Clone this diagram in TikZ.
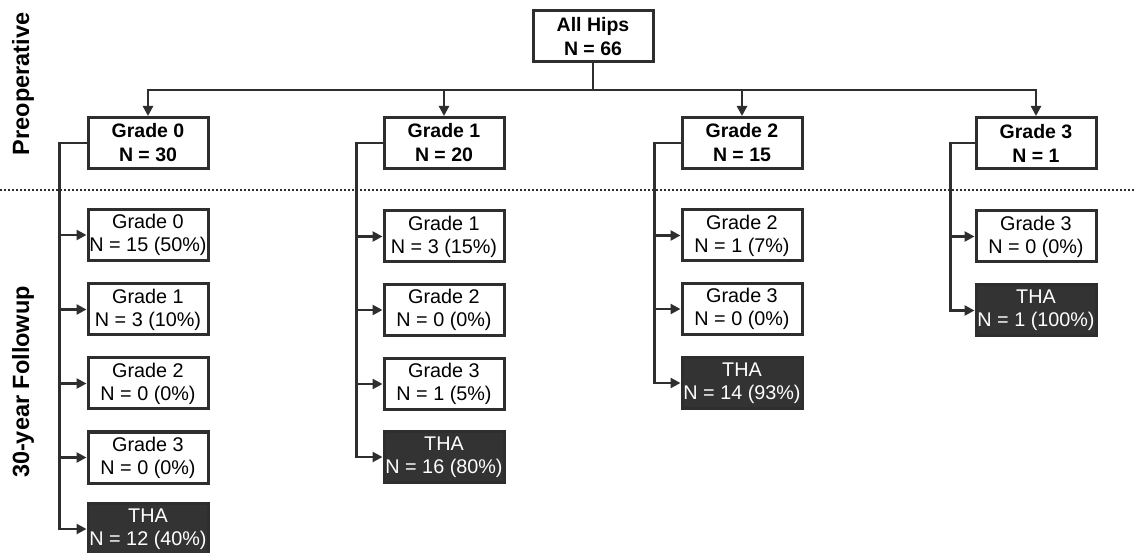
\documentclass[tikz,border=0pt]{standalone}
\usepackage{fontspec}
\setmainfont{Liberation Sans}
\usetikzlibrary{arrows.meta}
\definecolor{ln}{HTML}{2E2E2E}
\definecolor{dk}{HTML}{333333}
\begin{document}
\begin{tikzpicture}[x=1pt,y=-1pt,
  box/.style={draw=ln,line width=3pt,fill=white,minimum width=120pt,minimum height=51pt,inner sep=0pt,align=center,font=\fontsize{19.8}{23}\selectfont,text=black},
  hbox/.style={box,font=\fontsize{19.5}{24}\selectfont\bfseries},
  tha/.style={box,fill=dk,text=white},
  conn/.style={draw=ln,line width=2.6pt},
  arr/.style={conn,-{Triangle[length=10pt,width=10pt]}},
  side/.style={rotate=90,font=\fontsize{23.5}{26}\selectfont\bfseries,text=black}]
\useasboundingbox (0,0) rectangle (1136,553);
\fill[white] (0,0) rectangle (1136,553);
% side labels
\node[side] (pre) at (23,84) {Preoperative};
\node[side] (fol) at (23,382) {30-year Followup};
% dotted separator
\coordinate (dl) at (0,190);
\coordinate (dr) at (1136,190);
\draw[ln,line width=2.6pt,dash pattern=on 2pt off 2pt] (dl) -- (dr);
% top
\node[hbox] (all) at (593,36.5) {All Hips\\N = 66};
\coordinate (hub) at (593,90);
% headers
\node[hbox] (g0) at (148,143) {Grade 0\\N = 30};
\node[hbox] (g1) at (444,143) {Grade 1\\N = 20};
\node[hbox] (g2) at (742,143) {Grade 2\\N = 15};
\node[hbox] (g3) at (1036,143) {Grade 3\\N = 1};
\draw[conn] (all.south) -- (hub);
\foreach \g in {g0,g1,g2,g3}{\draw[arr] (hub) -| (\g.north);}
% column 0
\node[box] (a0) at (148,235) {Grade 0\\N = 15 (50\%)};
\node[box] (a1) at (148,309.5) {Grade 1\\N = 3 (10\%)};
\node[box] (a2) at (148,383.5) {Grade 2\\N = 0 (0\%)};
\node[box] (a3) at (148,457.5) {Grade 3\\N = 0 (0\%)};
\node[tha] (a4) at (148,529) {THA\\N = 12 (40\%)};
% column 1
\node[box] (b1) at (444,236.5) {Grade 1\\N = 3 (15\%)};
\node[box] (b2) at (444,310) {Grade 2\\N = 0 (0\%)};
\node[box] (b3) at (444,384) {Grade 3\\N = 1 (5\%)};
\node[tha] (b4) at (444,457) {THA\\N = 16 (80\%)};
% column 2
\node[box] (c2) at (742,235.5) {Grade 2\\N = 1 (7\%)};
\node[box] (c3) at (742,309) {Grade 3\\N = 0 (0\%)};
\node[tha] (c4) at (742,383) {THA\\N = 14 (93\%)};
% column 3
\node[box] (d3) at (1036,236.5) {Grade 3\\N = 0 (0\%)};
\node[tha] (d4) at (1036,310.5) {THA\\N = 1 (100\%)};
% branches
\foreach \c in {a0,a1,a2,a3,a4}{\draw[arr] (g0.west) -- ++(-27,0) |- (\c.west);}
\foreach \c in {b1,b2,b3,b4}{\draw[arr] (g1.west) -- ++(-26,0) |- (\c.west);}
\foreach \c in {c2,c3,c4}{\draw[arr] (g2.west) -- ++(-26,0) |- (\c.west);}
\foreach \c in {d3,d4}{\draw[arr] (g3.west) -- ++(-24,0) |- (\c.west);}
\end{tikzpicture}
\end{document}
